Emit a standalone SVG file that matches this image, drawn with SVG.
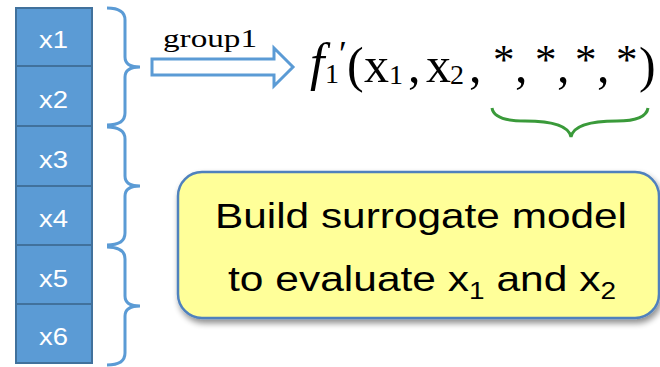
<svg xmlns="http://www.w3.org/2000/svg" width="660" height="367" viewBox="0 0 660 367">
<defs>
<style>
.cell{fill:#5B9BD5;stroke:#41719C;stroke-width:2}
.ct{font-family:"Liberation Sans",Arial,sans-serif;font-size:24px;fill:#fff}
.brace{fill:none;stroke:#5B9BD5;stroke-width:3}
.m{font-family:"Liberation Serif","DejaVu Serif",serif;fill:#000}
.bt{font-family:"Liberation Sans",Arial,sans-serif;font-size:35px;fill:#000}
</style>
<filter id="sh" x="-10%" y="-10%" width="130%" height="140%">
<feGaussianBlur in="SourceAlpha" stdDeviation="3"/>
<feOffset dx="2" dy="4" result="b"/>
<feComponentTransfer><feFuncA type="linear" slope="0.45"/></feComponentTransfer>
<feMerge><feMergeNode/><feMergeNode in="SourceGraphic"/></feMerge>
</filter>
</defs>
<rect width="660" height="367" fill="#fff"/>
<g id="x1"><rect class="cell" x="16" y="8" width="76" height="58"/><text class="ct" x="39" y="48" textLength="29" lengthAdjust="spacingAndGlyphs">x1</text></g>
<g id="x2"><rect class="cell" x="16" y="66" width="76" height="60"/><text class="ct" x="39" y="108" textLength="29" lengthAdjust="spacingAndGlyphs">x2</text></g>
<g id="x3"><rect class="cell" x="16" y="126" width="76" height="60"/><text class="ct" x="39" y="168" textLength="29" lengthAdjust="spacingAndGlyphs">x3</text></g>
<g id="x4"><rect class="cell" x="16" y="186" width="76" height="59"/><text class="ct" x="39" y="227" textLength="29" lengthAdjust="spacingAndGlyphs">x4</text></g>
<g id="x5"><rect class="cell" x="16" y="245" width="76" height="59"/><text class="ct" x="39" y="287" textLength="29" lengthAdjust="spacingAndGlyphs">x5</text></g>
<g id="x6"><rect class="cell" x="16" y="304" width="76" height="59"/><text class="ct" x="39" y="345" textLength="29" lengthAdjust="spacingAndGlyphs">x6</text></g>
<g id="connectors">
<path class="brace" d="M107 8 Q125 8 125 20 L125 57 Q125 67 140 67 Q125 67 125 77 L125 113 Q125 125 107 125"/>
<path class="brace" d="M107 127 Q125 127 125 139 L125 176 Q125 186 140 186 Q125 186 125 196 L125 233 Q125 245 107 245"/>
<path class="brace" d="M107 247 Q125 247 125 259 L125 296 Q125 306 140 306 Q125 306 125 316 L125 353 Q125 365 107 365"/>
<path d="M152 59 L274 59 L274 48 L293 67 L274 86 L274 75 L152 75 Z" fill="#fff" stroke="#5B9BD5" stroke-width="3" stroke-linejoin="miter"/>
<path d="M492 108 Q494 121 525 121 Q568 121 571 137 Q574 121 617 121 Q646 121 648 108" fill="none" stroke="#3A9A3A" stroke-width="3"/>
</g>
<g id="group1-label"><text class="m" x="163" y="47" font-size="26" textLength="94" lengthAdjust="spacingAndGlyphs">group1</text></g>
<g id="formula">
<text class="m" font-size="50"><tspan x="310" y="80" font-size="52" font-style="italic">f</tspan><tspan x="325" y="83" font-size="28">1</tspan><tspan x="339" y="66" font-size="36">′</tspan><tspan x="347" y="82">(</tspan><tspan x="364" y="82">x</tspan><tspan x="389" y="84" font-size="28">1</tspan><tspan x="408" y="82">,</tspan><tspan x="426" y="82">x</tspan><tspan x="450" y="84" font-size="28">2</tspan><tspan x="469" y="82">,</tspan><tspan x="493" y="74" font-size="43">*</tspan><tspan x="515" y="82">,</tspan><tspan x="535" y="74" font-size="43">*</tspan><tspan x="557" y="82">,</tspan><tspan x="575" y="74" font-size="43">*</tspan><tspan x="597" y="82">,</tspan><tspan x="616" y="74" font-size="43">*</tspan><tspan x="639" y="82">)</tspan></text>
</g>
<g id="surrogate-box">
<rect x="178" y="172" width="481" height="146" rx="24" ry="24" fill="#FFFF99" stroke="#4F81BD" stroke-width="2.5" filter="url(#sh)"/>
<text class="bt" x="215" y="228" textLength="412" lengthAdjust="spacingAndGlyphs">Build surrogate model</text>
<text class="bt" x="228" y="291" textLength="388" lengthAdjust="spacingAndGlyphs">to evaluate x<tspan font-size="23" dy="8">1</tspan><tspan dy="-8"> and x</tspan><tspan font-size="23" dy="8">2</tspan></text>
</g>
</svg>
